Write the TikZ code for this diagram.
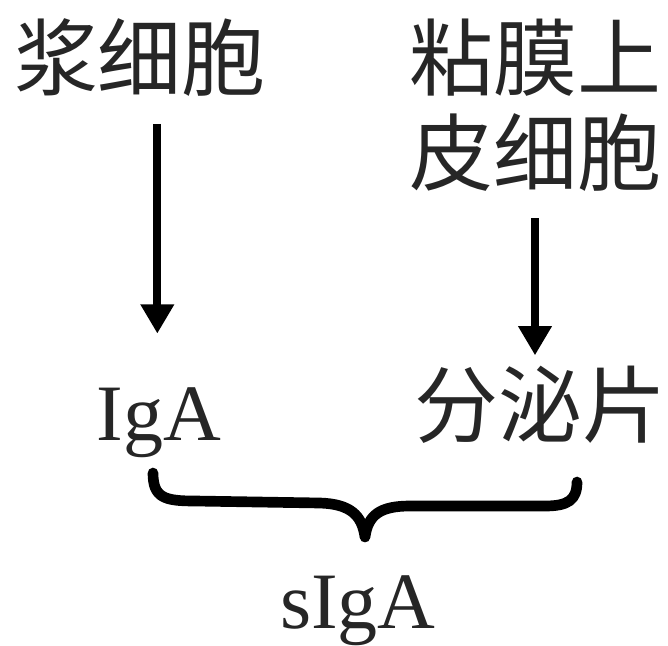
\documentclass[tikz,border=0pt]{standalone}
\usepackage{fontspec}
\setmainfont{Liberation Serif}
\newfontfamily\cjk{Noto Sans CJK SC}
\usetikzlibrary{arrows.meta,positioning}
\definecolor{textgray}{HTML}{262626}

\begin{document}
\begin{tikzpicture}[
    x=0.75pt, y=-0.75pt,
    cell/.style={inner sep=0pt, text=textgray, font=\cjk\fontsize{63}{71}\selectfont, align=center},
    protein/.style={inner sep=0pt, anchor=base, text=textgray, font=\fontsize{60}{68}\selectfont},
    arrow/.style={-{Triangle[width=24pt,length=22pt]}, line width=6pt},
    brace/.style={line width=8pt, line cap=round, line join=round}
]
    \useasboundingbox (0,0) rectangle (668,646);

    % 细胞节点
    \node[cell] (plasma) at (140, 58) {浆细胞};
    \node[cell] (epithel) at (535, 105) {粘膜上\\皮细胞};

    % 产物节点
    \node[protein] (iga) at (159, 440) {IgA};
    \node[cell] (secpiece) at (540, 405) {分泌片};
    \node[protein] (siga) at (358, 628) {sIgA};

    % 箭头
    \draw[arrow, shorten <=20pt, shorten >=40pt] ([xshift=13]plasma.south) -- ([xshift=13]plasma.south |- iga.north);
    \draw[arrow, shorten <=20pt, shorten >=8pt] (epithel.south) -- (epithel.south |- secpiece.north);

    % 大括号
    \draw[brace] (153,473) .. controls (153,498) and (165,501) .. (195,501)
        -- (320,503) .. controls (350,504) and (362,515) .. (365,537)
        .. controls (368,515) and (380,506) .. (410,506)
        -- (545,506) .. controls (568,506) and (577,500) .. (577,482);
\end{tikzpicture}
\end{document}
